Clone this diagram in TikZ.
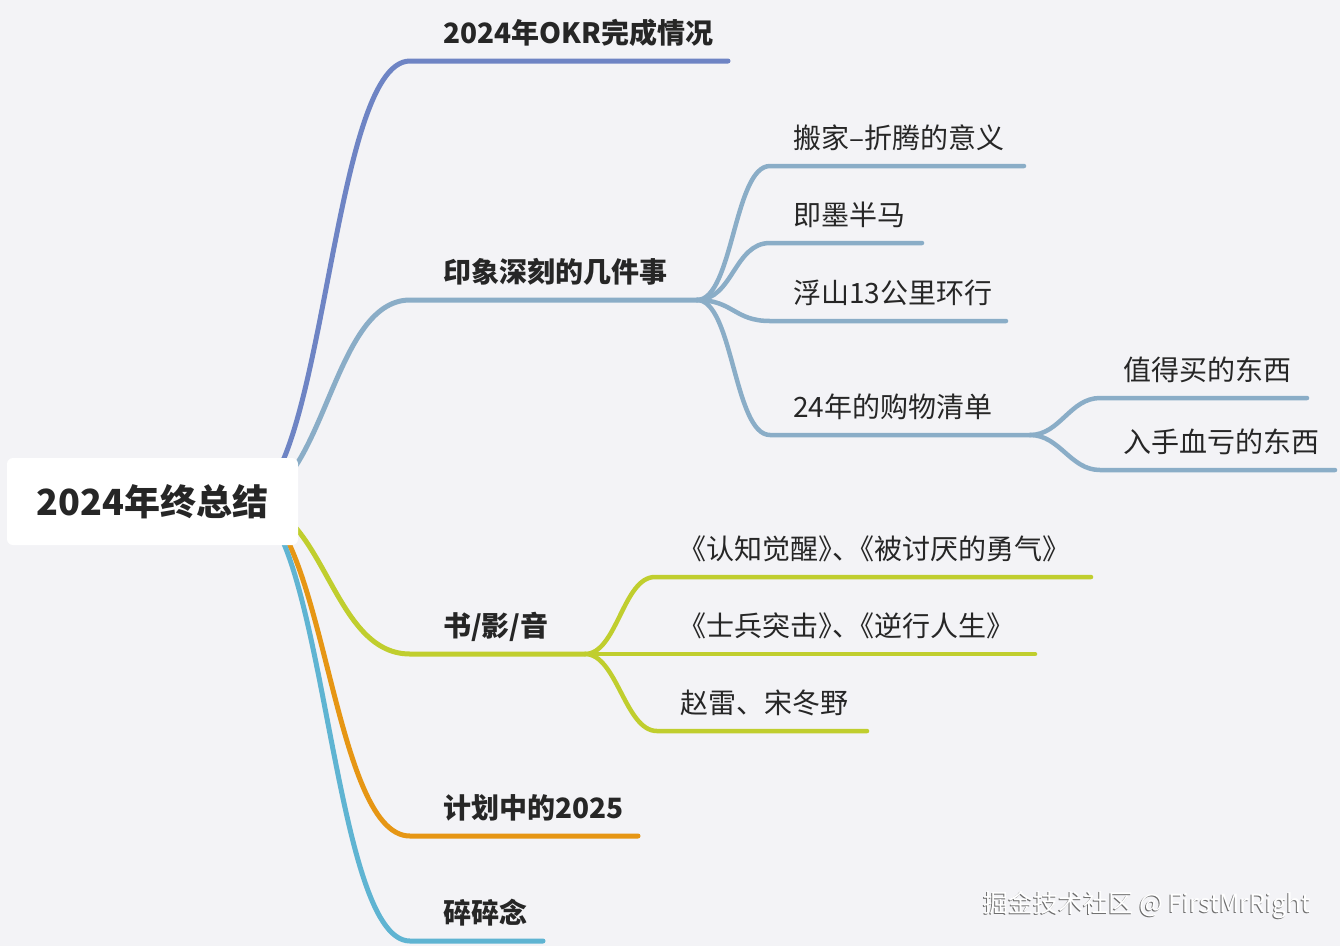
\documentclass[tikz,border=0pt]{standalone}
\usepackage{fontspec}
\setmainfont{Noto Sans CJK SC}
\newfontfamily\cjkhalf[RawFeature=+halt]{Noto Sans CJK SC}
\usepackage{tikz}
\usetikzlibrary{calc}
\definecolor{MapBg}{RGB}{243, 243, 246}
\definecolor{MapText}{RGB}{38, 38, 38}
\definecolor{MapOKR}{RGB}{110, 132, 196}
\definecolor{MapSteel}{RGB}{138, 173, 199}
\definecolor{MapLime}{RGB}{192, 206, 46}
\definecolor{MapOrange}{RGB}{230, 150, 20}
\definecolor{MapCyan}{RGB}{95, 180, 210}
\definecolor{MapShade}{RGB}{110, 110, 110}
\pgfdeclarelayer{bg}
\pgfsetlayers{bg,main}

\tikzset{
  rootbox/.style={fill=white, rounded corners=6pt, minimum width=291pt, minimum height=87pt,
    inner sep=0pt, text=MapText, font=\fontsize{36}{40}\selectfont\bfseries},
  toplabel/.style={anchor=base west, inner sep=0pt, text=MapText, font=\fontsize{28}{32}\selectfont\bfseries},
  sublabel/.style={anchor=base west, inner sep=0pt, text=MapText, font=\fontsize{28}{32}\selectfont},
  topline/.style={line width=5pt, line cap=round},
  subline/.style={line width=4.5pt, line cap=round},
  wmtext/.style={inner sep=0pt, font=\fontsize{25}{29}\selectfont},
}

\begin{document}
\begin{tikzpicture}[x=1pt,y=-1pt]
  \path[use as bounding box] (0,0) rectangle (1340,946);
  \begin{pgfonlayer}{bg}
    \fill[MapBg] (0,0) rectangle (1340,946);
  \end{pgfonlayer}

  % Root topic
  \node[rootbox] (root) at (152.5,501.5) {2024年终总结};
  \coordinate (hub) at (245,501);

  % Main branches: name / underline y / line end x / colour / text
  \foreach \nm/\ly/\xe/\col/\txt in {
    okr/61/728/MapOKR/{2024年OKR完成情况},
    memo/300/697/MapSteel/{印象深刻的几件事},
    media/654/585/MapLime/{书/影/音},
    plan/836/638/MapOrange/{计划中的2025},
    misc/941/543/MapCyan/{碎碎念}}{
    \node[toplabel] (\nm) at (443,\ly-18) {\txt};
    \coordinate (\nm-s) at ([shift={(-33pt,-18pt)}]\nm.base west);
    \coordinate (\nm-e) at (\xe,\ly);
    \begin{pgfonlayer}{bg}
      \draw[topline, \col] (hub) .. controls +(80,0) and +(-80,0) .. (\nm-s) -- (\nm-e);
    \end{pgfonlayer}
  }

  % Sub branches: name / parent / underline y / line end x / text x / bend / colour / text
  \foreach \nm/\pa/\ly/\xe/\xt/\k/\col/\txt in {
    move/memo/166/1024/793/36/MapSteel/{搬家–折腾的意义},
    marathon/memo/243/922/793/36/MapSteel/{即墨半马},
    ride/memo/321/1006/793/36/MapSteel/{浮山13公里环行},
    shop/memo/435/1030/793/36/MapSteel/{24年的购物清单},
    worth/shop/398/1307/1123/30/MapSteel/{值得买的东西},
    regret/shop/470/1335/1123/30/MapSteel/{入手血亏的东西},
    books/media/577/1091/678/32/MapLime/{《认知觉醒{\cjkhalf 》}、{\cjkhalf 《}被讨厌的勇气》},
    shows/media/654/1035/678/32/MapLime/{《士兵突击{\cjkhalf 》}、{\cjkhalf 《}逆行人生》},
    songs/media/731/867/680/32/MapLime/{赵雷、宋冬野}}{
    \node[sublabel] (\nm) at (\xt,\ly-18) {\txt};
    \coordinate (\nm-s) at ([shift={(-23pt,-18pt)}]\nm.base west);
    \coordinate (\nm-e) at (\xe,\ly);
    \begin{pgfonlayer}{bg}
      \draw[subline, \col] (\pa-e) .. controls +(\k,0) and +(-\k,0) .. (\nm-s) -- (\nm-e);
    \end{pgfonlayer}
  }

  % Watermark
  \node[wmtext, text=MapShade] (credit-shade) at (1146.5,906) {掘金技术社区 @ FirstMrRight};
  \node[wmtext, text=white] (credit) at (1147.5,905) {掘金技术社区 @ FirstMrRight};
\end{tikzpicture}
\end{document}
